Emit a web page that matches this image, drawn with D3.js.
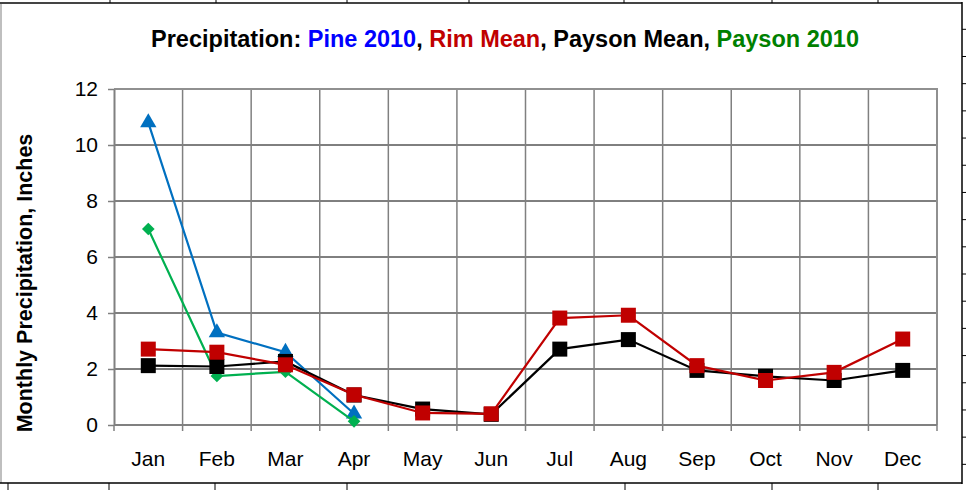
<!DOCTYPE html>
<html><head><meta charset="utf-8">
<script src="https://cdn.jsdelivr.net/npm/d3@7"></script>
<style>body{margin:0;background:#fff;}svg{display:block;font-family:"Liberation Sans",Arial,sans-serif;}</style>
</head><body>
<svg id="chart" width="966" height="490"></svg>
<script>
const months = ["Jan","Feb","Mar","Apr","May","Jun","Jul","Aug","Sep","Oct","Nov","Dec"];
const yTicks = [0,2,4,6,8,10,12];
const pine2010 = [10.8, 3.3, 2.6, 0.4];
const payson2010 = [7.0, 1.75, 1.9, 0.13];
const paysonMean = [2.12, 2.09, 2.27, 1.07, 0.57, 0.38, 2.71, 3.05, 1.95, 1.74, 1.59, 1.95];
const rimMean = [2.71, 2.6, 2.15, 1.08, 0.43, 0.4, 3.82, 3.92, 2.12, 1.59, 1.88, 3.07];

const svg = d3.select("#chart");
const L = 114, R = 937, T = 89, B = 425;
const x = d3.scaleBand().domain(months).range([L, R]).padding(0);
const y = d3.scaleLinear().domain([0, 12]).range([B, T]);
const cx = m => x(m) + x.bandwidth() / 2;

// outer frame + spreadsheet cell marks
const deco = svg.append("g");
deco.append("line").attr("x1",0).attr("x2",962).attr("y1",3).attr("y2",3).attr("stroke","#444").attr("stroke-width",2);
[110,216,347,469,624,772,878].forEach(v=>deco.append("line").attr("x1",v).attr("x2",v).attr("y1",0).attr("y2",3).attr("stroke","#000"));
deco.append("line").attr("x1",1).attr("x2",1).attr("y1",4).attr("y2",483).attr("stroke","#aaa").attr("stroke-width",1.5);
deco.append("line").attr("x1",962).attr("x2",962).attr("y1",2).attr("y2",484).attr("stroke","#000").attr("stroke-width",1.5);
deco.append("line").attr("x1",0).attr("x2",962).attr("y1",483).attr("y2",483).attr("stroke","#000").attr("stroke-width",1.5);
[8,109,215,347,625,772,878].forEach(v=>deco.append("line").attr("x1",v).attr("x2",v).attr("y1",483).attr("y2",490).attr("stroke","#000"));
d3.range(17).forEach(k=>{const v=29.3+27.19*k;deco.append("line").attr("x1",962).attr("x2",966).attr("y1",v).attr("y2",v).attr("stroke","#000");});

// gridlines
const g = svg.append("g");
g.selectAll(".hg").data(yTicks.filter(t=>t>0&&t<12)).join("line")
  .attr("x1",L).attr("x2",R).attr("y1",d=>y(d)).attr("y2",d=>y(d))
  .attr("stroke","#000").attr("stroke-width",1);
const bounds = months.map(m=>x(m)).concat([R]);
g.selectAll(".vg").data(bounds.slice(1,-1)).join("line")
  .attr("x1",d=>d).attr("x2",d=>d).attr("y1",T).attr("y2",B)
  .attr("stroke","#808080").attr("stroke-width",1.5);
g.append("path").attr("d",`M${L},${T}H${R}V${B}`).attr("fill","none").attr("stroke","#909090").attr("stroke-width",2);

// y axis
const ya = svg.append("g").attr("transform",`translate(${L},0)`)
  .call(d3.axisLeft(y).tickValues(yTicks).tickSize(6).tickPadding(10).tickSizeOuter(0));
ya.select(".domain").attr("stroke","#808080").attr("stroke-width",2);
ya.selectAll(".tick line").attr("stroke","#808080").attr("stroke-width",1.5);
ya.selectAll("text").attr("font-size",21).attr("fill","#000").attr("font-family","Liberation Sans, Arial, sans-serif");

// x axis (boundary ticks)
svg.append("line").attr("x1",L).attr("x2",R).attr("y1",B).attr("y2",B).attr("stroke","#808080").attr("stroke-width",2);
svg.selectAll(".xt").data(bounds).join("line")
  .attr("x1",d=>d).attr("x2",d=>d).attr("y1",B).attr("y2",B+6)
  .attr("stroke","#808080").attr("stroke-width",1.5);
svg.selectAll(".xl").data(months).join("text")
  .attr("x",d=>cx(d)).attr("y",466).attr("text-anchor","middle")
  .attr("font-size",21).attr("fill","#000").text(d=>d);

// axis title
svg.append("text").attr("transform","translate(32,283) rotate(-90)")
  .attr("text-anchor","middle").attr("font-size",21.5).attr("font-weight","bold").text("Monthly Precipitation, Inches");

// title
const title = svg.append("text").attr("x",505).attr("y",47).attr("text-anchor","middle")
  .attr("font-size",23.5).attr("font-weight","bold");
[["Precipitation: ","#000"],["Pine 2010","#0000FF"],[", ","#000"],["Rim Mean","#C00000"],[", Payson Mean, ","#000"],["Payson 2010","#008000"]]
  .forEach(([t,c])=>title.append("tspan").attr("fill",c).text(t));

// series
function drawLine(vals, color){
  const line = d3.line().x((d,i)=>cx(months[i])).y(d=>y(d));
  svg.append("path").datum(vals).attr("d",line).attr("fill","none").attr("stroke",color).attr("stroke-width",2.2);
}
function drawMarkers(vals, color, type, size){
  svg.append("g").selectAll("path").data(vals).join("path")
    .attr("transform",(d,i)=>`translate(${cx(months[i])},${y(d)})`)
    .attr("d",d3.symbol().type(type).size(size)).attr("fill",color);
}
drawLine(pine2010,"#0070C0"); drawMarkers(pine2010,"#0070C0",d3.symbolTriangle,115);
drawLine(payson2010,"#00B050");
svg.append("g").selectAll("path").data(payson2010).join("path")
  .attr("transform",(d,i)=>`translate(${cx(months[i])},${y(d)}) rotate(45)`)
  .attr("d",d3.symbol().type(d3.symbolSquare).size(80)).attr("fill","#00B050");
drawLine(paysonMean,"#000"); drawMarkers(paysonMean,"#000",d3.symbolSquare,225);
drawLine(rimMean,"#C00000"); drawMarkers(rimMean,"#C00000",d3.symbolSquare,225);
</script>
</body></html>
